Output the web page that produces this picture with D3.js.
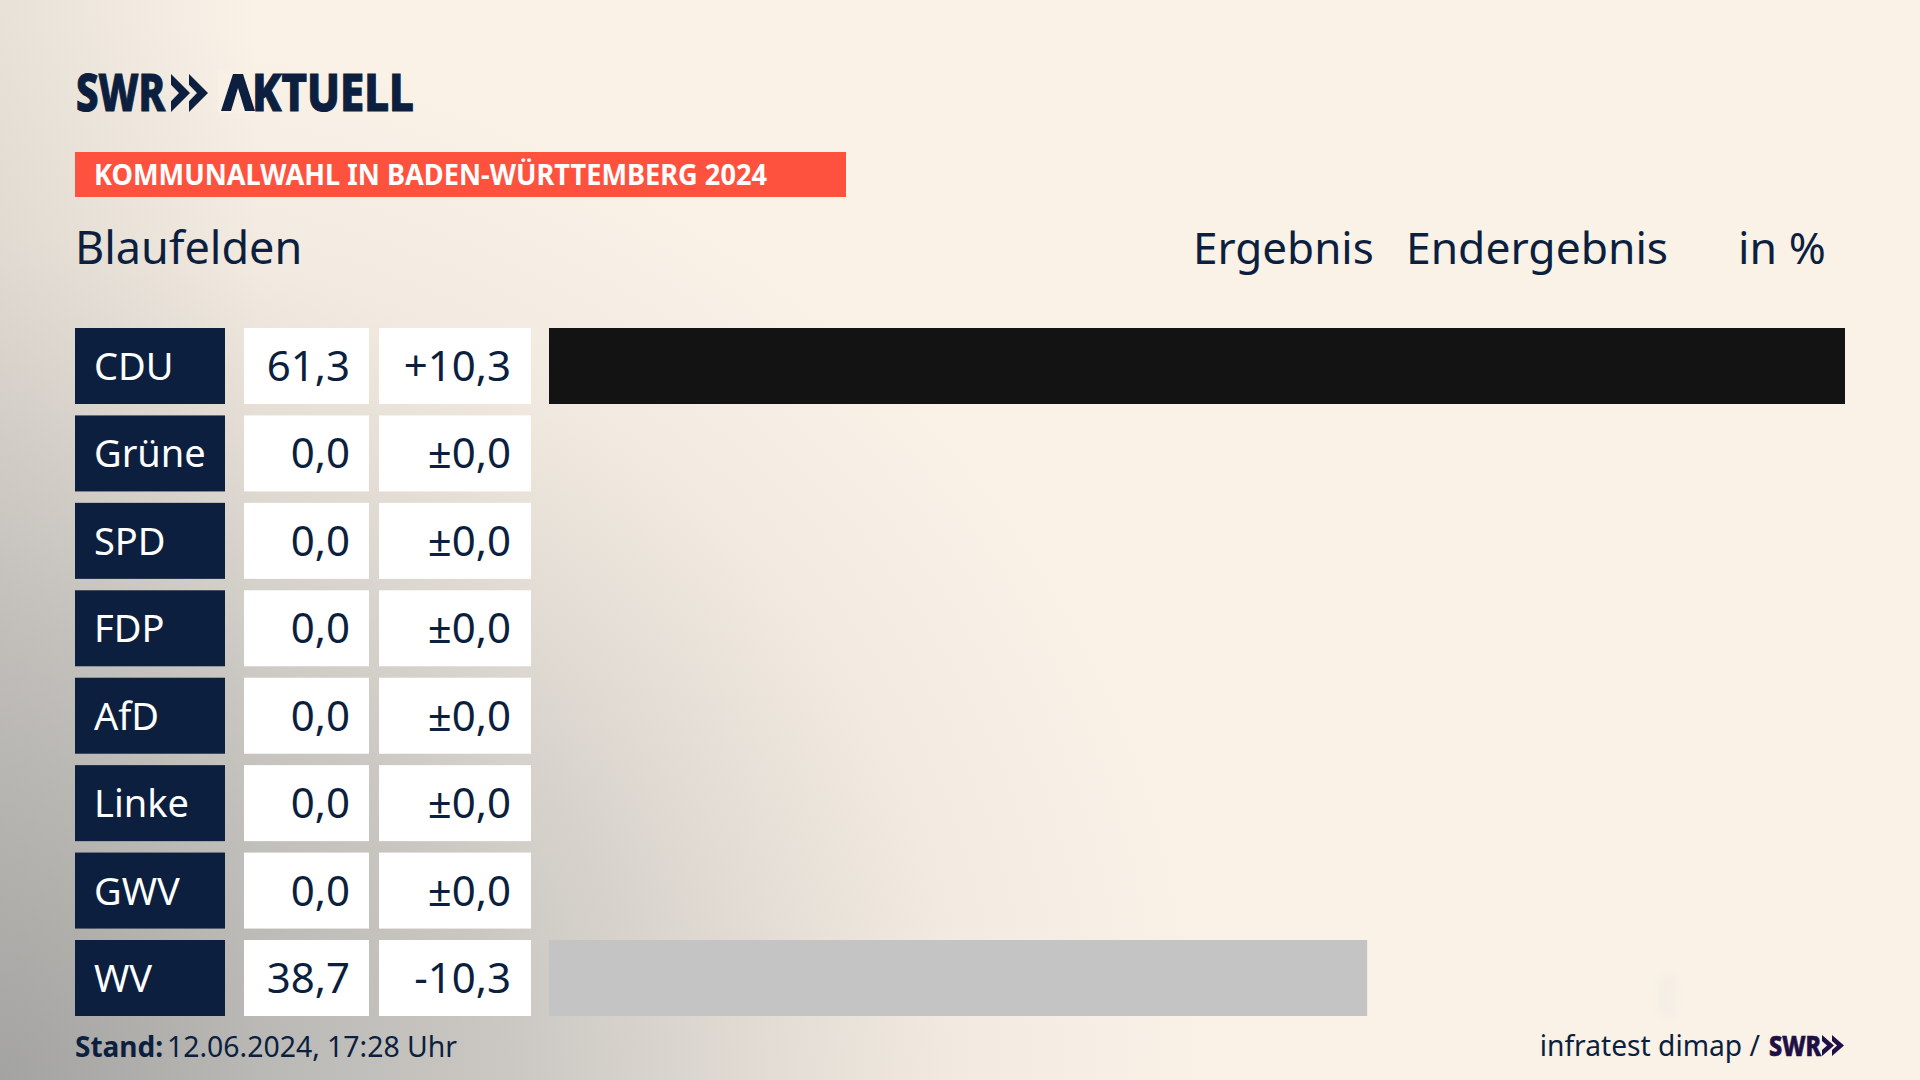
<!DOCTYPE html>
<html>
<head>
<meta charset="utf-8">
<script src="https://cdn.jsdelivr.net/npm/d3@7"></script>
<style>
html, body { margin: 0; padding: 0; background: #faf2e7; overflow: hidden; }
text { font-family: "Noto Sans", sans-serif; }
</style>
</head>
<body>
<div id="chart"></div>
<script>
var parties = ["CDU", "Grüne", "SPD", "FDP", "AfD", "Linke", "GWV", "WV"];
var results = [61.3, 0, 0, 0, 0, 0, 0, 38.7];
var changes = [10.3, 0, 0, 0, 0, 0, 0, -10.3];
var barColors = ["#131313", "#1aa037", "#e3000f", "#ffed00", "#009ee0", "#be3075", "#c4c4c4", "#c4c4c4"];

var width = 1920, height = 1080;
var navy = "#0c1f3f";
var cream = "#faf2e7";

var svg = d3.select("#chart").append("svg")
  .attr("width", width)
  .attr("height", height)
  .style("display", "block");

var defs = svg.append("defs");

var soft = defs.append("filter").attr("id", "soft")
  .attr("x", "-100%").attr("y", "-100%").attr("width", "300%").attr("height", "300%");
soft.append("feGaussianBlur").attr("stdDeviation", 6);

// Hintergrund: grau von unten links
var shade = defs.append("radialGradient").attr("id", "shade")
  .attr("gradientUnits", "userSpaceOnUse")
  .attr("cx", 0).attr("cy", 0).attr("r", 1)
  .attr("gradientTransform", "translate(0,1080) scale(1280,1120)");
[[0, "#a8a8a6"], [0.4, "#cbc8c3"], [0.6, "#e2dcd4"], [0.75, "#f2eae0"], [0.95, cream]].forEach(function(s) {
  shade.append("stop").attr("offset", s[0]).attr("stop-color", s[1]);
});

var edge = defs.append("linearGradient").attr("id", "edge");
edge.append("stop").attr("offset", 0).attr("stop-color", "#8a8a88").attr("stop-opacity", 0.16);
edge.append("stop").attr("offset", 1).attr("stop-color", "#8a8a88").attr("stop-opacity", 0);

svg.append("rect").attr("width", width).attr("height", height).attr("fill", "url(#shade)");
svg.append("rect").attr("width", 260).attr("height", height).attr("fill", "url(#edge)");
svg.append("rect").attr("x", 1660).attr("y", 975).attr("width", 14).attr("height", 42)
  .attr("fill", "#f4ede3").attr("filter", "url(#soft)");

// Logo
svg.append("text").attr("x", 76).attr("y", 111)
  .attr("font-size", 52).attr("font-weight", 800)
  .attr("stroke", navy).attr("stroke-width", 1.2)
  .attr("textLength", 89).attr("lengthAdjust", "spacingAndGlyphs")
  .attr("fill", navy).text("SWR");
svg.append("text").attr("x", 221).attr("y", 111)
  .attr("font-size", 52).attr("font-weight", 800)
  .attr("stroke", navy).attr("stroke-width", 1.2)
  .attr("textLength", 193).attr("lengthAdjust", "spacingAndGlyphs")
  .attr("fill", navy).text("AKTUELL");
// A im Logo hat keinen Querstrich
svg.append("rect").attr("x", 218).attr("y", 70).attr("width", 36).attr("height", 44).attr("fill", "#f8f0e5");
svg.append("path")
  .attr("d", d3.line()([[221, 111], [233, 74], [243, 74], [255, 111], [245, 111], [238, 88], [231, 111]]) + "Z")
  .attr("fill", navy);

function chevrons(g, x, y, h, w, gap, color) {
  [0, 1].forEach(function(i) {
    var x0 = x + i * gap;
    g.append("path")
      .attr("d", d3.line()([[x0, y], [x0 + w, y + h / 2], [x0, y + h], [x0, y + h * 0.72], [x0 + w * 0.42, y + h / 2], [x0, y + h * 0.28]]) + "Z")
      .attr("fill", color);
  });
}
chevrons(svg, 171, 74, 38, 19, 18, navy);

// Roter Balken
svg.append("rect").attr("x", 75).attr("y", 152).attr("width", 771).attr("height", 45).attr("fill", "#ff523e");
svg.append("text").attr("x", 94).attr("y", 185)
  .attr("font-size", 28).attr("font-weight", 700)
  .attr("textLength", 673).attr("lengthAdjust", "spacingAndGlyphs")
  .attr("fill", "#fff").text("KOMMUNALWAHL IN BADEN-WÜRTTEMBERG 2024");

// Kopfzeile
function headText(x, t, size) {
  svg.append("text").attr("x", x).attr("y", 264)
    .attr("font-size", size).attr("fill", navy).text(t);
}
headText(75, "Blaufelden", 45);
headText(1193, "Ergebnis", 44);
headText(1406, "Endergebnis", 44.4);
headText(1738, "in %", 44.6);

// Zeilen
var y = d3.scaleBand().domain(parties).range([328, 1016]).paddingInner(0.1307).paddingOuter(0);
var x = d3.scaleLinear().domain([0, 61.3]).range([549, 1845]);

var row = svg.selectAll("g.row").data(parties).enter().append("g")
  .attr("class", "row")
  .attr("transform", function(d) { return "translate(0," + y(d) + ")"; });

row.append("rect").attr("x", 75).attr("width", 150).attr("height", y.bandwidth()).attr("fill", navy);
row.append("rect").attr("x", 244).attr("width", 125).attr("height", y.bandwidth()).attr("fill", "#fff");
row.append("rect").attr("x", 379).attr("width", 152).attr("height", y.bandwidth()).attr("fill", "#fff");

row.append("text").attr("x", 94).attr("y", 52)
  .attr("font-size", 38).attr("fill", "#fff")
  .text(function(d) { return d; });

function fmt(v) { return v.toFixed(1).replace(".", ","); }
function fmtChange(v) {
  if (v === 0) return "±0,0";
  return (v > 0 ? "+" : "-") + fmt(Math.abs(v));
}

row.append("text").attr("x", 350).attr("y", 53)
  .attr("font-size", 42).attr("text-anchor", "end").attr("fill", navy)
  .text(function(d, i) { return fmt(results[i]); });
row.append("text").attr("x", 511).attr("y", 53)
  .attr("font-size", 42).attr("text-anchor", "end").attr("fill", navy)
  .text(function(d, i) { return fmtChange(changes[i]); });

row.append("rect").attr("x", x(0))
  .attr("width", function(d, i) { return x(results[i]) - x(0); })
  .attr("height", y.bandwidth())
  .attr("fill", function(d, i) { return barColors[i]; });

// Fusszeile
svg.append("text").attr("x", 75).attr("y", 1057)
  .attr("font-size", 28).attr("font-weight", 700).attr("fill", navy).text("Stand:");
svg.append("text").attr("x", 167).attr("y", 1057)
  .attr("font-size", 28.4).attr("fill", navy).text("12.06.2024, 17:28 Uhr");
svg.append("text").attr("x", 1760).attr("y", 1056)
  .attr("font-size", 28.2).attr("text-anchor", "end").attr("fill", navy).text("infratest dimap /");
svg.append("text").attr("x", 1769).attr("y", 1056)
  .attr("font-size", 28).attr("font-weight", 800)
  .attr("stroke", "#1f0f45").attr("stroke-width", 0.7)
  .attr("textLength", 52).attr("lengthAdjust", "spacingAndGlyphs")
  .attr("fill", "#1f0f45").text("SWR");
chevrons(svg, 1822, 1035, 21, 12, 10, "#1f0f45");
</script>
</body>
</html>
